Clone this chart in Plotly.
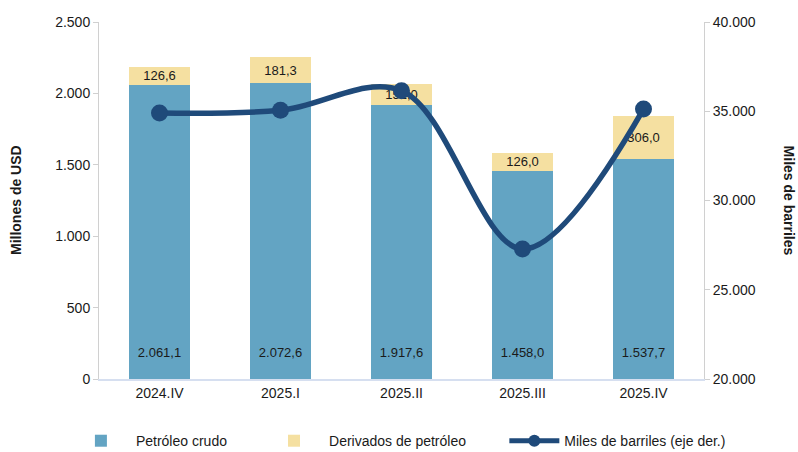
import plotly.graph_objects as go

categorias = ["2024.IV", "2025.I", "2025.II", "2025.III", "2025.IV"]
petroleo_crudo = [2061.1, 2072.6, 1917.6, 1458.0, 1537.7]
derivados = [126.6, 181.3, 151.0, 126.0, 306.0]
miles_barriles = [34900, 35050, 36150, 27280, 35120]

left_ticks = [0, 500, 1000, 1500, 2000, 2500]
right_ticks = [20000, 25000, 30000, 35000, 40000]

FONT = "Liberation Sans"

fig = go.Figure()
fig.add_trace(go.Bar(
    x=categorias, y=petroleo_crudo, name="Petróleo crudo", showlegend=True,
    marker=dict(color="#63a4c3", line=dict(width=0)),
    texttemplate="%{y:,.1f}<br><span style='font-size:9px'> </span>",
    textposition="inside", insidetextanchor="start",
    textfont=dict(family=FONT, size=13, color="#1a1a1a"), textangle=0,
))
fig.add_trace(go.Bar(
    x=categorias, y=derivados, name="Derivados de petróleo", legend="legend3",
    showlegend=True,
    marker=dict(color="#f5e0a1", line=dict(width=0)),
    texttemplate="%{y:,.1f}", textposition="inside", insidetextanchor="middle",
    textfont=dict(family=FONT, size=13, color="#1a1a1a"), textangle=0,
    constraintext="none",
))
fig.add_trace(go.Scatter(
    x=categorias, y=miles_barriles, name="Miles de barriles (eje der.)",
    yaxis="y2", mode="lines+markers", legend="legend2", showlegend=True,
    line=dict(color="#1f4a7a", width=5.5, shape="spline", smoothing=1.0),
    marker=dict(color="#1f4a7a", size=17),
))

fig.update_layout(
    width=798, height=452,
    showlegend=True,
    barmode="stack", bargap=0.495,
    separators=",.",
    plot_bgcolor="white", paper_bgcolor="white",
    margin=dict(l=99, r=94, t=22, b=73, autoexpand=False),
    font=dict(family=FONT, size=14, color="#1a1a1a"),
    uniformtext=dict(minsize=13, mode="show"),
    xaxis=dict(
        showline=True, linecolor="#d6dff0", linewidth=1.5,
        ticks="", tickfont=dict(size=14), showgrid=False,
    ),
    yaxis=dict(
        range=[0, 2500], tickvals=left_ticks, tickformat=",d",
        showline=True, linecolor="#d0d0d0", linewidth=1,
        ticks="outside", ticklen=5, tickcolor="#d0d0d0",
        showgrid=False, zeroline=False, tickfont=dict(size=14),
    ),
    yaxis2=dict(
        range=[20000, 40000], tickvals=right_ticks, tickformat=",d",
        overlaying="y", side="right",
        showline=True, linecolor="#d0d0d0", linewidth=1,
        ticks="outside", ticklen=5, tickcolor="#d0d0d0",
        showgrid=False, zeroline=False, tickfont=dict(size=14),
    ),
    legend=dict(
        orientation="h", x=-0.0547, xanchor="left", y=-0.174, yanchor="middle",
        font=dict(size=14), itemwidth=60, visible=True,
    ),
    legend3=dict(
        orientation="h", x=0.2645, xanchor="left", y=-0.174, yanchor="middle",
        font=dict(size=14), itemwidth=60,
    ),
    legend2=dict(
        orientation="h", x=0.67, xanchor="left", y=-0.174, yanchor="middle",
        font=dict(size=14), itemwidth=50, itemsizing="constant",
    ),
    annotations=[
        dict(text="<b>Millones de USD</b>", xref="paper", yref="paper",
             x=-0.138, y=0.5, xanchor="center", yanchor="middle",
             textangle=-90, showarrow=False, font=dict(size=14)),
        dict(text="<b>Miles de barriles</b>", xref="paper", yref="paper",
             x=1.142, y=0.5, xanchor="center", yanchor="middle",
             textangle=90, showarrow=False, font=dict(size=14)),
    ],
)

fig.write_html(
    "out.html",
    config={"displayModeBar": False},
    post_script="document.body.style.margin='0';document.body.style.padding='0';",
)
